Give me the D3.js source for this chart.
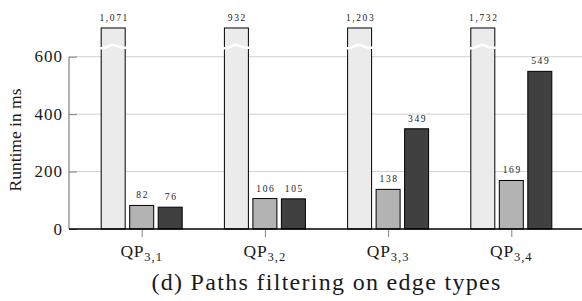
<!DOCTYPE html>
<html>
<head>
<meta charset="utf-8">
<script src="https://cdn.jsdelivr.net/npm/d3@7"></script>
<style>
  body { margin: 0; background: #fff; }
</style>
</head>
<body>
<div id="chart"></div>
<script>
// categories and series
const categories = ["3,1", "3,2", "3,3", "3,4"];
const lightValues = [1071, 932, 1203, 1732];
const mediumValues = [82, 106, 138, 169];
const darkValues = [76, 105, 349, 549];
const yTicks = [0, 200, 400, 600];

const series = [
    {name: "light", values: lightValues, fill: "#ebebeb", offset: -1},
    {name: "medium", values: mediumValues, fill: "#b3b3b3", offset: 0},
    {name: "dark", values: darkValues, fill: "#404040", offset: 1}
];

const W = 582, H = 301;
const margin = {left: 69, right: 584, top: 56.7, bottom: 229};
const cap = 700;       // bars taller than this are clipped with a break mark
const breakAt = 634;   // where the wavy break is drawn
const barW = 24, barStep = 28.5;
const serif = "'Liberation Serif', 'Times New Roman', serif";

const svg = d3.select("#chart").append("svg")
    .attr("width", W)
    .attr("height", H)
    .attr("font-family", serif);

const x = d3.scaleLinear()
    .domain([0.41, 4.59])
    .range([margin.left, margin.right]);

const y = d3.scaleLinear()
    .domain([0, 600])
    .range([margin.bottom, margin.top]);

// grid
svg.append("g")
    .selectAll("line")
    .data(yTicks.filter(d => d > 0))
    .enter().append("line")
    .attr("x1", margin.left).attr("x2", W)
    .attr("y1", d => y(d)).attr("y2", d => y(d))
    .style("stroke", "#d0d0d0")
    .style("stroke-width", 1);

// y axis: ticks point inward, line is grey
const yAxis = d3.axisRight(y).tickValues(yTicks).tickSize(8).tickFormat("");
const gy = svg.append("g")
    .attr("transform", "translate(" + margin.left + ",0)")
    .call(yAxis);
gy.select("path.domain").remove();
gy.selectAll("line").style("stroke", "#808080");

svg.append("line")
    .attr("x1", margin.left).attr("x2", margin.left)
    .attr("y1", y(0)).attr("y2", y(600))
    .style("stroke", "#808080")
    .style("stroke-width", 1.2);

svg.append("g")
    .selectAll("text")
    .data(yTicks)
    .enter().append("text")
    .attr("x", margin.left - 6)
    .attr("y", d => y(d))
    .attr("dy", "0.34em")
    .attr("text-anchor", "end")
    .style("font-family", serif)
    .style("font-size", "17px")
    .style("letter-spacing", "1px")
    .style("fill", "#1a1a1a")
    .text(d => d);

svg.append("text")
    .attr("transform", "translate(21," + 140 + ") rotate(-90)")
    .attr("text-anchor", "middle")
    .style("font-family", serif)
    .style("font-size", "17.5px")
    .style("fill", "#1a1a1a")
    .text("Runtime in ms");

// bars
const flat = [];
series.forEach(s => s.values.forEach((v, i) => flat.push({s: s, i: i + 1, v: v})));

const bars = svg.append("g").selectAll("g.bar")
    .data(flat)
    .enter().append("g").attr("class", "bar");

bars.append("rect")
    .attr("x", d => x(d.i) + d.s.offset * barStep - barW / 2)
    .attr("y", d => y(Math.min(d.v, cap)))
    .attr("width", barW)
    .attr("height", d => y(0) - y(Math.min(d.v, cap)))
    .style("fill", d => d.s.fill)
    .style("stroke", "#000")
    .style("stroke-width", 1);

// break marks on clipped bars
bars.filter(d => d.v > cap).append("path")
    .attr("d", d => {
        const x0 = x(d.i) + d.s.offset * barStep - barW / 2 - 1.5;
        const yb = y(breakAt);
        const w = barW + 3;
        return "M" + x0 + "," + (yb + 1.5)
            + " C" + (x0 + w * 0.3) + "," + (yb + 1.5)
            + " " + (x0 + w * 0.35) + "," + (yb - 2.5)
            + " " + (x0 + w * 0.5) + "," + (yb - 2)
            + " C" + (x0 + w * 0.65) + "," + (yb - 1.5)
            + " " + (x0 + w * 0.7) + "," + (yb + 2)
            + " " + (x0 + w) + "," + (yb + 0.5);
    })
    .style("fill", "none")
    .style("stroke", "#fff")
    .style("stroke-width", 2.6);

// value labels
bars.append("text")
    .attr("x", d => x(d.i) + d.s.offset * barStep + 1)
    .attr("y", d => y(Math.min(d.v, cap)) - 7)
    .attr("text-anchor", "middle")
    .style("font-family", serif)
    .style("font-size", "9.5px")
    .style("letter-spacing", "1.6px")
    .style("fill", "#1a1a1a")
    .text(d => d3.format(",")(d.v));

// x axis
const xAxis = d3.axisBottom(x).tickValues(d3.range(1, categories.length + 1)).tickSize(8).tickFormat("");
const gx = svg.append("g")
    .attr("transform", "translate(0," + y(0) + ")")
    .call(xAxis);
gx.select("path.domain").remove();
gx.selectAll("line").style("stroke", "#808080");

svg.append("line")
    .attr("x1", margin.left).attr("x2", W)
    .attr("y1", y(0)).attr("y2", y(0))
    .style("stroke", "#000")
    .style("stroke-width", 1.4);

const xl = svg.append("g").selectAll("text")
    .data(categories)
    .enter().append("text")
    .attr("x", (d, i) => x(i + 1))
    .attr("y", 257)
    .attr("text-anchor", "middle")
    .style("font-family", serif)
    .style("font-size", "17.5px")
    .style("fill", "#1a1a1a");
xl.append("tspan")
    .style("letter-spacing", "0.8px")
    .text("QP");
xl.append("tspan")
    .attr("dy", 3.5)
    .style("font-size", "12.5px")
    .style("letter-spacing", "1px")
    .text(d => d);

// caption
svg.append("text")
    .attr("x", (margin.left + margin.right) / 2)
    .attr("y", 290)
    .attr("text-anchor", "middle")
    .style("font-family", serif)
    .style("font-size", "24px")
    .style("letter-spacing", "1.3px")
    .style("fill", "#1a1a1a")
    .text("(d) Paths filtering on edge types");
</script>
</body>
</html>
